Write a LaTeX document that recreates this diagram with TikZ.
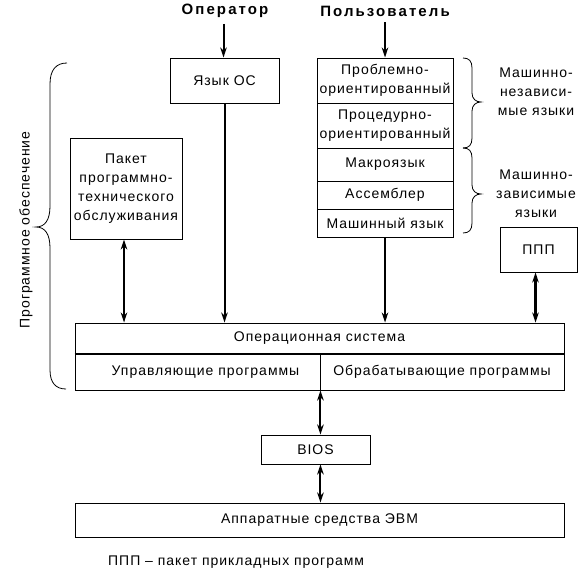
\documentclass[tikz,border=0pt]{standalone}
\usepackage{fontspec}
\setmainfont{Liberation Sans}[LetterSpace=7]
\newfontfamily\hdrfont{Liberation Sans}[LetterSpace=14]
\usetikzlibrary{arrows.meta}
\begin{document}
\begin{tikzpicture}[x=1pt,y=-1pt,
  txt/.style={font=\fontsize{14}{19}\selectfont, align=center, inner sep=0pt},
  box/.style={txt, draw, line width=0.9pt},
  hdr/.style={font=\hdrfont\bfseries\fontsize{15}{17}\selectfont, inner sep=0pt},
  arr/.style={line width=2pt, -{Stealth[length=10pt,width=6.5pt,inset=3pt]}},
  darr/.style={line width=2pt, {Stealth[length=10pt,width=6.5pt,inset=3pt]}-{Stealth[length=10pt,width=6.5pt,inset=3pt]}},
  brc/.style={line width=0.8pt}]
\useasboundingbox (0,0) rectangle (585,578);
% headers
\node[hdr] (oper) at (225,11) {Оператор};
\node[hdr] (user) at (385,11) {Пользователь};
% boxes
\node[box, minimum width=109pt, minimum height=45pt] (jos) at (224.5,80.5) {Язык ОС};
\node[box, minimum width=136pt, minimum height=45pt] (r1) at (385,80.5) {Проблемно-\\ориентированный};
\node[box, minimum width=136pt, minimum height=45pt] (r2) at (385,125.5) {Процедурно-\\ориентированный};
\node[box, minimum width=136pt, minimum height=33pt] (r3) at (385,164.5) {Макроязык};
\node[box, minimum width=136pt, minimum height=28pt] (r4) at (385,195) {Ассемблер};
\node[box, minimum width=136pt, minimum height=28pt] (r5) at (385,223) {Машинный язык};
\node[box, minimum width=112pt, minimum height=101pt] (pak) at (126,188.5) {Пакет\\программно-\\технического\\обслуживания};
\node[box, minimum width=77pt, minimum height=45pt] (ppp) at (538.5,249.5) {ППП};
\node[box, minimum width=489pt, minimum height=31pt] (ostop) at (319.5,338.5) {Операционная система};
\node[box, minimum width=245pt, minimum height=36pt] (ctrl) at (197.5,372) {\hspace*{16pt}Управляющие программы};
\node[box, minimum width=244pt, minimum height=36pt] (proc) at (442,372) {Обрабатывающие программы};
\node[box, minimum width=109pt, minimum height=29pt] (bios) at (315.5,449.5) {BIOS};
\node[box, minimum width=489pt, minimum height=34pt] (hw) at (319.5,520) {Аппаратные средства ЭВМ};
\draw[line width=2pt] (ostop.south west) -- (ostop.south east);
% side labels
\node[txt] (lbl1) at (536,92) {Машинно-\\независи-\\мые языки};
\node[txt] (lbl2) at (536,194) {Машинно-\\зависимые\\языки};
\node[txt, rotate=90] (lbl3) at (26,230) {Программное обеспечение};
\node[txt, anchor=west] (note) at (108,562) {ППП – пакет прикладных программ};
% braces
\draw[brc] (67,63) .. controls (56,63) and (50,70) .. (50,84) -- (50,206)
  .. controls (50,220) and (45,227) .. (36,227)
  .. controls (45,227) and (50,234) .. (50,248) -- (50,370)
  .. controls (50,383) and (56,389) .. (66,389);
\draw[brc] (463,58) .. controls (469,58) and (472,61) .. (472,68) -- (472,93)
  .. controls (472,99) and (476,102) .. (481,102)
  .. controls (476,102) and (472,105) .. (472,111) -- (472,138)
  .. controls (472,145) and (469,148) .. (463,148);
\draw[brc] (463,148) .. controls (469,148) and (472,151) .. (472,158) -- (472,185)
  .. controls (472,191) and (476,194) .. (481,194)
  .. controls (476,194) and (472,197) .. (472,203) -- (472,223)
  .. controls (472,230) and (469,233) .. (463,233);
% connectors
\draw[arr] ([xshift=-1.5pt,yshift=-6pt]oper.south) -- ([xshift=-1.5pt]oper.south |- jos.north);
\draw[arr] ([yshift=-6pt]user.south) -- (user.south |- r1.north);
\draw[arr] (jos.south) -- (jos.south |- ostop.north);
\draw[arr] (r5.south) -- (r5.south |- ostop.north);
\draw[darr] ([xshift=-2pt]pak.south) -- ([xshift=-2pt]pak.south |- ostop.north);
\draw[darr, line width=3pt] ([xshift=-3pt]ppp.south) -- ([xshift=-3pt]ppp.south |- ostop.north);
\draw[darr] (ctrl.south east) -- (ctrl.south east |- bios.north);
\draw[darr] (ctrl.south east |- bios.south) -- (ctrl.south east |- hw.north);
\end{tikzpicture}
\end{document}
